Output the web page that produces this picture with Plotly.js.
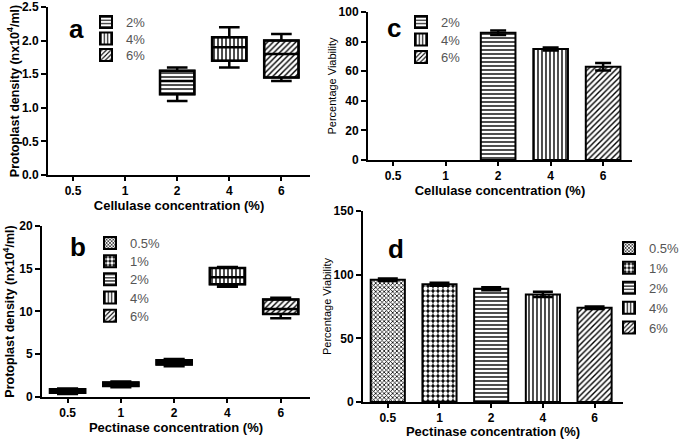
<!DOCTYPE html>
<html>
<head>
<meta charset="utf-8">
<script src="https://cdn.plot.ly/plotly-3.0.1.min.js"></script>
<style>html,body{margin:0;padding:0;background:#fff;}#chart{width:685px;height:439px;}</style>
</head>
<body>
<div id="chart"></div>
<script>
// ---------- DATA ----------
const concCategories = ["0.5", "1", "2", "4", "6"];

// Panel a: protoplast density vs cellulase concentration (box plots)
const aLabels = ["2%", "4%", "6%"];
const aX = ["2", "4", "6"];
const aLow = [1.1, 1.6, 1.4];
const aQ1 = [1.2, 1.7, 1.45];
const aMed = [1.4, 1.9, 1.8];
const aQ3 = [1.55, 2.05, 2.0];
const aHigh = [1.6, 2.2, 2.1];

// Panel b: protoplast density vs pectinase concentration (box plots)
const bLabels = ["0.5%", "1%", "2%", "4%", "6%"];
const bX = ["0.5", "1", "2", "4", "6"];
const bLow = [0.35, 1.15, 3.6, 12.9, 9.2];
const bQ1 = [0.5, 1.3, 3.8, 13.2, 9.7];
const bMed = [0.7, 1.5, 4.05, 14.0, 10.3];
const bQ3 = [0.9, 1.7, 4.3, 15.1, 11.4];
const bHigh = [1.0, 1.8, 4.45, 15.2, 11.6];

// Panel c: percentage viability vs cellulase concentration (bars)
const cLabels = ["2%", "4%", "6%"];
const cX = ["2", "4", "6"];
const cVal = [86, 75, 63];
const cErr = [1.5, 1.0, 2.5];

// Panel d: percentage viability vs pectinase concentration (bars)
const dLabels = ["0.5%", "1%", "2%", "4%", "6%"];
const dX = ["0.5", "1", "2", "4", "6"];
const dVal = [96, 92.5, 89, 84.5, 74];
const dErr = [1.0, 1.2, 1.2, 2.0, 1.0];

// ---------- STYLES ----------
const patterns = {
  "0.5%": {shape: "x", size: 3, solidity: 0.45},
  "1%":   {shape: ".", size: 5, solidity: 0.6, fgcolor: "white", bgcolor: "black"},
  "2%":   {shape: "-", size: 4, solidity: 0.35},
  "4%":   {shape: "|", size: 4, solidity: 0.35},
  "6%":   {shape: "/", size: 4, solidity: 0.35}
};
function pat(label) {
  return Object.assign({fgcolor: "black", bgcolor: "white", fillmode: "replace"}, patterns[label]);
}
const FONT = "Liberation Sans, Arial, sans-serif";
const BOXW = 0.66;
const traces = [];
const legendSpots = [];   // [legendName, left px, centre-y px, yanchor]
let legendCount = 0;
function newLegend(xpx, ypx, yanchor) {
  legendCount += 1;
  const name = legendCount === 1 ? "legend" : "legend" + legendCount;
  legendSpots.push([name, xpx, ypx, yanchor]);
  return name;
}

function boxPanel(labels, xs, low, q1, med, q3, high, xa, ya, legX, legY, legStep) {
  labels.forEach((lab, i) => {
    traces.push({
      type: "bar", x: [xs[i]], base: [q1[i]], y: [q3[i] - q1[i]], width: BOXW,
      name: lab, legend: newLegend(legX, legY + i * legStep, "middle"), xaxis: xa, yaxis: ya,
      marker: {color: "white", pattern: pat(lab), line: {color: "black", width: 2}},
      hoverinfo: "skip"
    });
  });
  traces.push({
    type: "box", x: xs, q1: q1, median: med, q3: q3, lowerfence: low, upperfence: high,
    xaxis: xa, yaxis: ya, width: BOXW, whiskerwidth: 0.6,
    fillcolor: "rgba(0,0,0,0)", line: {color: "black", width: 2.5},
    showlegend: false, hoverinfo: "skip"
  });
}
function barPanel(labels, xs, vals, errs, xa, ya, capw, legendFor) {
  labels.forEach((lab, i) => {
    traces.push({
      type: "bar", x: [xs[i]], y: [vals[i]], width: BOXW,
      name: lab, legend: legendFor(i), xaxis: xa, yaxis: ya,
      marker: {color: "white", pattern: pat(lab), line: {color: "black", width: 2}},
      error_y: {type: "data", array: [errs[i]], visible: true, color: "black", thickness: 2.5, width: capw},
      hoverinfo: "skip"
    });
  });
}

boxPanel(aLabels, aX, aLow, aQ1, aMed, aQ3, aHigh, "x", "y", 86, 22, 16.5);
boxPanel(bLabels, bX, bLow, bQ1, bMed, bQ3, bHigh, "x2", "y2", 90, 243, 18.2);
barPanel(cLabels, cX, cVal, cErr, "x3", "y3", 8, i => newLegend(401, 22 + i * 17.5, "middle"));
const dLegend = newLegend(685, 233, "top");
barPanel(dLabels, dX, dVal, dErr, "x4", "y4", 10, i => dLegend);

// ---------- LAYOUT ----------
function xAxis(domain, anchor, title, standoff) {
  return {
    domain: domain, anchor: anchor, type: "category",
    categoryorder: "array", categoryarray: concCategories,
    range: [-0.48, 4.55], showline: true, linecolor: "black", linewidth: 2,
    ticks: "outside", ticklen: 4, tickwidth: 2, tickcolor: "black",
    tickfont: {family: FONT, size: 12, color: "black", weight: "bold"},
    showgrid: false, zeroline: false, fixedrange: true,
    title: {text: title, font: {family: FONT, size: 13, color: "black", weight: "bold"}, standoff: standoff}
  };
}
function yAxis(domain, anchor, range, dtick, fmt, title, tfont, standoff) {
  return {
    domain: domain, anchor: anchor, range: range, dtick: dtick, tick0: 0, tickformat: fmt,
    showline: true, linecolor: "black", linewidth: 2,
    ticks: "outside", ticklen: 5, tickwidth: 2, tickcolor: "black",
    tickfont: {family: FONT, size: 12, color: "black", weight: "bold"},
    showgrid: false, zeroline: false, fixedrange: true,
    title: {text: title, font: tfont, standoff: standoff}
  };
}
const boldTitle = {family: FONT, size: 12.5, color: "black", weight: "bold"};
const plainTitle = {family: FONT, size: 11, color: "black"};

const layout = {
  width: 685, height: 439,
  margin: {l: 0, r: 0, t: 0, b: 0},
  paper_bgcolor: "white", plot_bgcolor: "white",
  barmode: "overlay", boxmode: "overlay",
  showlegend: true,
  xaxis:  xAxis([0.0701, 0.4526], "y", "Cellulase concentration (%)", 1),
  yaxis:  yAxis([0.6014, 0.984], "x", [0, 2.5], 0.5, ".1f", "Protoplast density (nx10<sup>4</sup>/ml)", boldTitle, 0),
  xaxis2: xAxis([0.0613, 0.4526], "y2", "Pectinase concentration (%)", 4),
  yaxis2: yAxis([0.0957, 0.4852], "x2", [0, 20], 5, "d", "Protoplast density (nx10<sup>4</sup>/ml)", boldTitle, 2),
  xaxis3: xAxis([0.5372, 0.9226], "y3", "Cellulase concentration (%)", 0),
  yaxis3: yAxis([0.6355, 0.9727], "x3", [0, 100], 20, "d", "Percentage Viability", plainTitle, 0),
  xaxis4: xAxis([0.5299, 0.9095], "y4", "Pectinase concentration (%)", 5),
  yaxis4: yAxis([0.0843, 0.5194], "x4", [0, 150], 50, "d", "Percentage Viability", plainTitle, 0),
  annotations: [
    {text: "a", x: 76 / 685, y: 1 - 29 / 439},
    {text: "b", x: 78 / 685, y: 1 - 247 / 439},
    {text: "c", x: 394 / 685, y: 1 - 28 / 439},
    {text: "d", x: 396 / 685, y: 1 - 249 / 439}
  ].map(a => Object.assign(a, {xref: "paper", yref: "paper", showarrow: false,
        xanchor: "center", yanchor: "middle",
        font: {family: FONT, size: 26, color: "black", weight: "bold"}}))
};
legendSpots.forEach(([name, xpx, ypx, yanchor]) => {
  layout[name] = {
    x: xpx / 685, y: 1 - ypx / 439, xanchor: xpx >= 685 ? "right" : "left", yanchor: yanchor,
    bgcolor: "rgba(0,0,0,0)", borderwidth: 0,
    font: {family: FONT, size: 13, color: "#555"}, itemwidth: 30
  };
});

Plotly.newPlot("chart", traces, layout, {displayModeBar: false, staticPlot: true});
</script>
</body>
</html>
